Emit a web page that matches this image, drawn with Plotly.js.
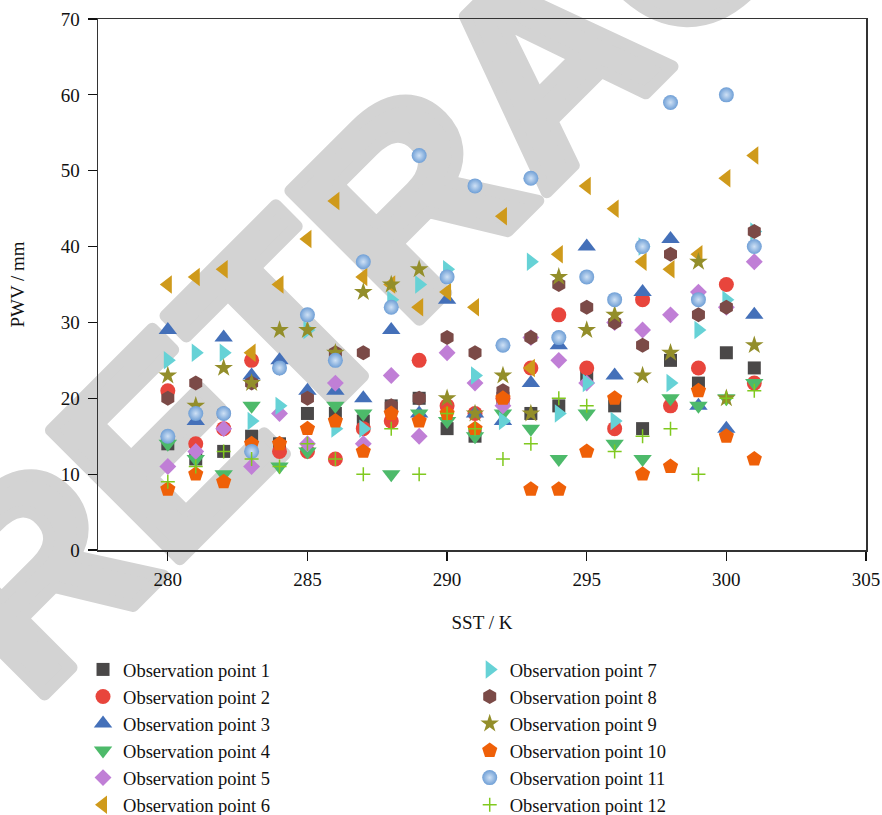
<!DOCTYPE html>
<html>
<head>
<meta charset="utf-8">
<script src="https://cdn.plot.ly/plotly-3.0.1.min.js"></script>
<style>
  html, body { margin: 0; padding: 0; background: #ffffff; }
  #wrap { position: relative; width: 882px; height: 815px; overflow: hidden; }
  #wm { position: absolute; left: 0; top: 0; z-index: 0; }
  #chart { position: absolute; left: 0; top: 0; width: 882px; height: 815px; z-index: 1; }
</style>
</head>
<body>
<div id="wrap">
  <svg id="wm" width="882" height="815" xmlns="http://www.w3.org/2000/svg">
    <text x="32" y="707" transform="rotate(-45 32 707)" font-family="Liberation Sans" font-weight="bold" font-size="265" fill="#d3d3d3" stroke="#d3d3d3" stroke-width="12" stroke-linejoin="round">RETRACTED</text>
  </svg>
  <div id="chart"></div>
</div>
<script>
// SST (K)
const sst = [280, 281, 282, 283, 284, 285, 286, 287, 288, 289, 290, 291, 292, 293, 294, 295, 296, 297, 298, 299, 300, 301];

// PWV (mm) per observation point
const point1  = [14, 12, 13, 15, 14, 18, 18, 17, 19, 20, 16, 15, 20, 18, 19, 23, 19, 16, 25, 22, 26, 24];
const point2  = [21, 14, 16, 25, 13, 13, 12, 16, 17, 25, 19, 18, 20, 24, 31, 24, 16, 33, 19, 24, 35, 22];
const point3  = [29, 17, 28, 23, 25, 21, 21, 20, 29, 18, 33, 18, 17, 22, 27, 40, 23, 34, 41, 19, 16, 31];
const point4  = [14, 12, 10, 19, 11, 13, 19, 18, 10, 18, 17, 15, 18, 16, 12, 18, 14, 12, 20, 19, 20, 22];
const point5  = [11, 13, 16, 11, 18, 14, 22, 14, 23, 15, 26, 22, 19, 28, 25, 22, 30, 29, 31, 34, 32, 38];
const point6  = [35, 36, 37, 26, 35, 41, 46, 36, 35, 32, 34, 32, 44, 24, 39, 48, 45, 38, 37, 39, 49, 52];
const point7  = [25, 26, 26, 17, 19, 29, 16, 16, 33, 35, 37, 23, 17, 38, 18, 22, 17, 40, 22, 29, 33, 42];
const point8  = [20, 22, 18, 22, 24, 20, 26, 26, 19, 20, 28, 26, 21, 28, 35, 32, 30, 27, 39, 31, 32, 42];
const point9  = [23, 19, 24, 22, 29, 29, 26, 34, 35, 37, 20, 18, 23, 18, 36, 29, 31, 23, 26, 38, 20, 27];
const point10 = [8, 10, 9, 14, 14, 16, 17, 13, 18, 17, 18, 16, 20, 8, 8, 13, 20, 10, 11, 21, 15, 12];
const point11 = [15, 18, 18, 13, 24, 31, 25, 38, 32, 52, 36, 48, 27, 49, 28, 36, 33, 40, 59, 33, 60, 40];
const point12 = [9, 11, 13, 12, 11, 14, 12, 10, 16, 10, 18, 16, 12, 14, 20, 19, 13, 15, 16, 10, 20, 21];

const seriesNames = ["Observation point 1", "Observation point 2", "Observation point 3", "Observation point 4",
  "Observation point 5", "Observation point 6", "Observation point 7", "Observation point 8",
  "Observation point 9", "Observation point 10", "Observation point 11", "Observation point 12"];
const seriesValues = [point1, point2, point3, point4, point5, point6, point7, point8, point9, point10, point11, point12];

const styles = [
  {symbol: "square",         color: "#4a4848", size: 13},
  {symbol: "circle",         color: "#e8453c", size: 15},
  {symbol: "triangle-up",    color: "#4470b9", size: 16},
  {symbol: "triangle-down",  color: "#4dba6a", size: 16},
  {symbol: "diamond",        color: "#c07fd6", size: 13},
  {symbol: "triangle-left",  color: "#cf9a1b", size: 16},
  {symbol: "triangle-right", color: "#66d2d6", size: 16},
  {symbol: "hexagon",        color: "#7b4a47", size: 15},
  {symbol: "star",           color: "#938e2a", size: 14},
  {symbol: "pentagon",       color: "#ef6008", size: 16},
  {symbol: "circle",         color: "#6f9fd6", size: 15, gradient: {type: "radial", color: "#cfe1f5"}},
  {symbol: "cross-thin",     color: "#80c91f", size: 10, line: {width: 1.5, color: "#80c91f"}}
];

const serif = "Liberation Serif, Times New Roman, serif";

const traces = seriesValues.map((vals, i) => {
  const st = styles[i];
  const marker = {symbol: st.symbol, color: st.color, size: st.size};
  if (st.gradient) marker.gradient = st.gradient;
  if (st.line) marker.line = st.line; else marker.line = {width: 0};
  return {
    type: "scatter", mode: "markers",
    x: sst, y: vals, name: seriesNames[i],
    marker: marker,
    legend: i < 6 ? "legend" : "legend2",
    hoverinfo: "x+y+name"
  };
});

const legendCommon = {
  yanchor: "top", xanchor: "left",
  font: {family: serif, size: 18.5, color: "#111"},
  bgcolor: "rgba(0,0,0,0)", borderwidth: 0,
  orientation: "v", traceorder: "normal", tracegroupgap: 0
};

const layout = {
  width: 882, height: 815,
  margin: {l: 98, r: 16, t: 19, b: 265, autoexpand: false},
  paper_bgcolor: "rgba(0,0,0,0)",
  plot_bgcolor: "rgba(0,0,0,0)",
  font: {family: serif, size: 19, color: "#111"},
  showlegend: true,
  xaxis: {
    range: [277.5, 305], tickvals: [280, 285, 290, 295, 300, 305],
    ticks: "outside", ticklen: 9, tickwidth: 1.2, tickcolor: "#111",
    showline: true, linecolor: "#333", linewidth: 1.5, mirror: true,
    showgrid: false, zeroline: false, ticklabelstandoff: 3,
    tickfont: {family: serif, size: 19, color: "#111"},
    title: {text: "SST / K", font: {family: serif, size: 19, color: "#111"}, standoff: 26}
  },
  yaxis: {
    range: [0, 70], tickvals: [0, 10, 20, 30, 40, 50, 60, 70],
    ticks: "outside", ticklen: 9, tickwidth: 1.2, tickcolor: "#111",
    showline: true, linecolor: "#333", linewidth: 1.5, mirror: true,
    showgrid: false, zeroline: false, ticklabelstandoff: 4,
    tickfont: {family: serif, size: 19, color: "#111"},
    title: {text: "PWV / mm", font: {family: serif, size: 19, color: "#111"}, standoff: 31}
  },
  legend: Object.assign({x: -0.0195, y: -0.19}, legendCommon),
  legend2: Object.assign({x: 0.484, y: -0.19}, legendCommon)
};

Plotly.newPlot("chart", traces, layout, {displayModeBar: false, staticPlot: true});
</script>
</body>
</html>
